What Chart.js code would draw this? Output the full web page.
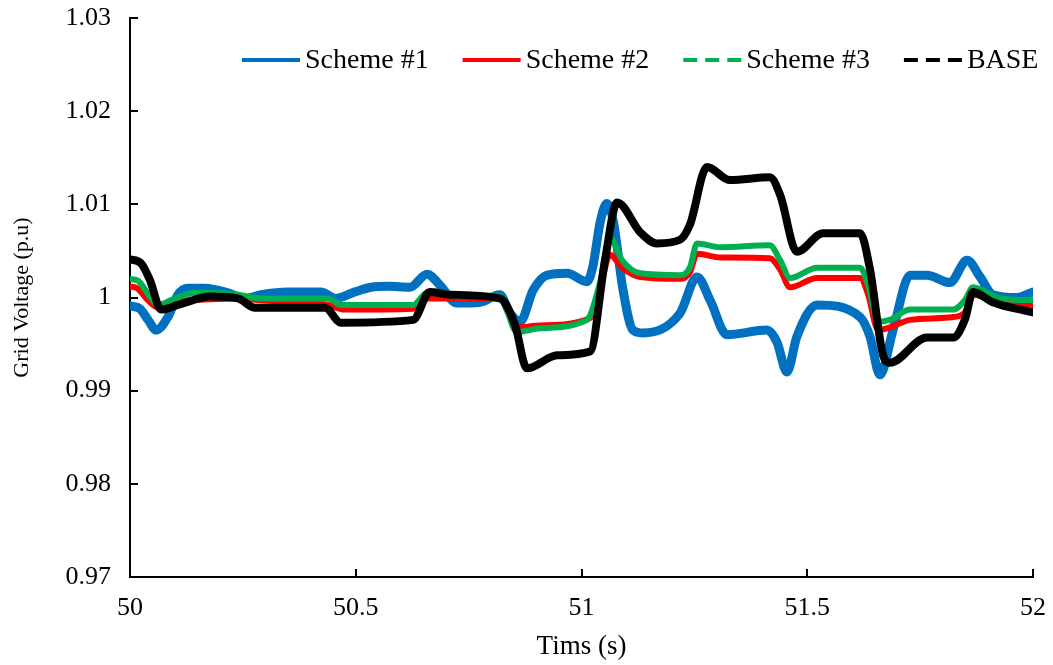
<!DOCTYPE html>
<html>
<head>
<meta charset="utf-8">
<script src="https://cdn.jsdelivr.net/npm/chart.js@4/dist/chart.umd.min.js"></script>
<style>
  html, body { margin: 0; padding: 0; background: #ffffff; }
  #wrap { width: 1053px; height: 665px; }
</style>
</head>
<body>
<div id="wrap"><canvas id="chart" width="1053" height="665"></canvas></div>
<script>
// Axis ticks
const xTickValues = [50, 50.5, 51, 51.5, 52];
const xTickLabels = ['50', '50.5', '51', '51.5', '52'];
const yTickValues = [0.97, 0.98, 0.99, 1.00, 1.01, 1.02, 1.03];
const yTickLabels = ['0.97', '0.98', '0.99', '1', '1.01', '1.02', '1.03'];

const seriesNames = ['Scheme #1', 'Scheme #2', 'Scheme #3', 'BASE'];

// Scheme #1 grid voltage (p.u) against time (s)
const scheme1Time = [50.000, 50.022, 50.040, 50.058, 50.084, 50.106, 50.129, 50.166, 50.217, 50.255,
  50.290, 50.350, 50.423, 50.456, 50.498, 50.534, 50.571, 50.620, 50.658, 50.687,
  50.724, 50.775, 50.819, 50.842, 50.864, 50.893, 50.924, 50.968, 51.012, 51.025,
  51.041, 51.056, 51.070, 51.092, 51.114, 51.136, 51.218, 51.256, 51.285, 51.322,
  51.411, 51.433, 51.455, 51.477, 51.522, 51.617, 51.639, 51.661, 51.690, 51.728,
  51.765, 51.816, 51.854, 51.883, 51.911, 51.965, 52.000];
const scheme1Volt = [0.9991, 0.9988, 0.9976, 0.9965, 0.9979, 1.0003, 1.0010, 1.0010, 1.0005, 0.9999,
  1.0003, 1.0006, 1.0006, 0.9999, 1.0006, 1.0011, 1.0012, 1.0011, 1.0025, 1.0013,
  0.9994, 0.9995, 1.0003, 0.9983, 0.9974, 1.0008, 1.0024, 1.0026, 1.0017, 1.0033,
  1.0080, 1.0101, 1.0083, 1.0008, 0.9965, 0.9962, 0.9983, 1.0022, 0.9997, 0.9960,
  0.9965, 0.9952, 0.9920, 0.9958, 0.9992, 0.9979, 0.9958, 0.9917, 0.9965, 1.0024,
  1.0024, 1.0016, 1.0040, 1.0022, 1.0003, 1.0000, 1.0006];

// Scheme #2
const scheme2Time = [50.000, 50.016, 50.040, 50.062, 50.089, 50.133, 50.244, 50.290, 50.377, 50.439,
  50.476, 50.627, 50.653, 50.687, 50.819, 50.857, 50.908, 51.019, 51.041, 51.063,
  51.090, 51.130, 51.218, 51.240, 51.256, 51.307, 51.417, 51.440, 51.462, 51.522,
  51.617, 51.635, 51.657, 51.683, 51.728, 51.823, 51.849, 51.867, 51.927, 52.000];
const scheme2Volt = [1.0012, 1.0010, 0.9997, 0.9989, 0.9995, 0.9997, 0.9999, 0.9997, 0.9995, 0.9992,
  0.9987, 0.9988, 0.9999, 0.9999, 0.9999, 0.9968, 0.9970, 0.9978, 1.0008, 1.0046,
  1.0032, 1.0022, 1.0020, 1.0027, 1.0047, 1.0043, 1.0042, 1.0030, 1.0011, 1.0021,
  1.0021, 1.0003, 0.9965, 0.9968, 0.9976, 0.9979, 0.9984, 1.0003, 0.9995, 0.9992];

// Scheme #3
const scheme3Time = [50.000, 50.018, 50.044, 50.062, 50.100, 50.144, 50.239, 50.290, 50.439, 50.467,
  50.627, 50.653, 50.669, 50.720, 50.819, 50.857, 50.908, 51.012, 51.041, 51.063,
  51.090, 51.130, 51.218, 51.240, 51.256, 51.307, 51.417, 51.440, 51.462, 51.522,
  51.617, 51.635, 51.657, 51.683, 51.728, 51.823, 51.849, 51.867, 51.927, 52.000];
const scheme3Volt = [1.0020, 1.0018, 1.0001, 0.9992, 0.9999, 1.0005, 1.0003, 0.9999, 0.9999, 0.9992,
  0.9992, 1.0004, 1.0006, 1.0002, 1.0002, 0.9963, 0.9967, 0.9976, 1.0016, 1.0064,
  1.0040, 1.0026, 1.0024, 1.0032, 1.0058, 1.0054, 1.0056, 1.0040, 1.0021, 1.0032,
  1.0032, 1.0013, 0.9974, 0.9976, 0.9987, 0.9987, 0.9997, 1.0011, 0.9999, 0.9997];

// BASE case
const baseTime = [50.000, 50.024, 50.044, 50.069, 50.106, 50.179, 50.239, 50.277, 50.432, 50.467,
  50.627, 50.664, 50.709, 50.819, 50.853, 50.879, 50.946, 51.019, 51.052, 51.079,
  51.130, 51.167, 51.218, 51.240, 51.278, 51.329, 51.417, 51.440, 51.477, 51.535,
  51.617, 51.639, 51.668, 51.683, 51.765, 51.823, 51.849, 51.867, 51.911, 52.000];
const baseVolt = [1.0041, 1.0037, 1.0019, 0.9987, 0.9992, 1.0001, 0.9999, 0.9989, 0.9989, 0.9973,
  0.9976, 1.0006, 1.0003, 0.9999, 0.9970, 0.9924, 0.9938, 0.9942, 1.0040, 1.0102,
  1.0070, 1.0058, 1.0062, 1.0078, 1.0140, 1.0126, 1.0129, 1.0110, 1.0049, 1.0069,
  1.0069, 1.0030, 0.9938, 0.9930, 0.9957, 0.9957, 0.9976, 1.0006, 0.9995, 0.9984];

const toPoints = (xs, ys) => xs.map((x, i) => ({ x: x, y: ys[i] }));

const FONT = '"Liberation Serif", "Times New Roman", serif';

function lineSet(label, xs, ys, color, width, legendDash, order) {
  return {
    label: label,
    data: toPoints(xs, ys),
    borderColor: color,
    backgroundColor: color,
    borderWidth: width,
    pointRadius: 0,
    fill: false,
    cubicInterpolationMode: 'monotone',
    borderJoinStyle: 'round',
    borderCapStyle: 'round',
    legendDash: legendDash,
    order: order
  };
}

// Legend drawn inside the plot area, one row across the top
const insideLegend = {
  id: 'insideLegend',
  afterDraw(chart) {
    const ctx = chart.ctx;
    ctx.save();
    ctx.font = '28px ' + FONT;
    ctx.textBaseline = 'middle';
    ctx.textAlign = 'left';
    let x = 242;
    const y = 60;
    chart.data.datasets.forEach(ds => {
      ctx.beginPath();
      ctx.setLineDash(ds.legendDash);
      ctx.lineWidth = 4;
      ctx.lineCap = 'butt';
      ctx.strokeStyle = ds.borderColor;
      ctx.moveTo(x, y);
      ctx.lineTo(x + 58, y);
      ctx.stroke();
      ctx.setLineDash([]);
      ctx.fillStyle = '#000000';
      ctx.fillText(ds.label, x + 63, y + 1);
      x += 63 + ctx.measureText(ds.label).width + 34;
    });
    ctx.restore();
  }
};

// Short tick marks pointing into the plot
const innerTicks = {
  id: 'innerTicks',
  afterDraw(chart) {
    const ctx = chart.ctx;
    const area = chart.chartArea;
    const xs = chart.scales.x, ys = chart.scales.y;
    ctx.save();
    ctx.strokeStyle = '#000000';
    ctx.lineWidth = 2;
    ctx.beginPath();
    yTickValues.forEach(v => {
      const py = Math.round(ys.getPixelForValue(v));
      ctx.moveTo(area.left, py);
      ctx.lineTo(area.left + 8, py);
    });
    xTickValues.forEach(v => {
      const px = Math.round(xs.getPixelForValue(v));
      ctx.moveTo(px, area.bottom);
      ctx.lineTo(px, area.bottom - 8);
    });
    ctx.stroke();
    ctx.restore();
  }
};

new Chart(document.getElementById('chart'), {
  type: 'line',
  data: {
    datasets: [
      lineSet(seriesNames[0], scheme1Time, scheme1Volt, '#0070C0', 9, [], 4),
      lineSet(seriesNames[1], scheme2Time, scheme2Volt, '#FF0000', 6, [], 3),
      lineSet(seriesNames[2], scheme3Time, scheme3Volt, '#00B050', 6, [14, 8], 2),
      lineSet(seriesNames[3], baseTime, baseVolt, '#000000', 8, [14, 8], 1)
    ]
  },
  options: {
    responsive: false,
    devicePixelRatio: 1,
    animation: false,
    layout: { padding: { top: 18, right: 20, left: 0, bottom: 0 } },
    plugins: {
      legend: { display: false },
      tooltip: { enabled: false }
    },
    scales: {
      x: {
        type: 'linear',
        min: 50,
        max: 52,
        grid: { display: false, drawTicks: false },
        border: { display: true, color: '#000000', width: 2 },
        afterBuildTicks: s => { s.ticks = xTickValues.map(v => ({ value: v })); },
        afterFit: s => { s.height = 88; s.paddingLeft = 0; s.paddingRight = 0; },
        ticks: {
          autoSkip: false,
          maxRotation: 0,
          padding: 16,
          color: '#000000',
          font: { family: FONT, size: 26 },
          callback: (v, i) => xTickLabels[i]
        },
        title: {
          display: true,
          text: 'Tims (s)',
          color: '#000000',
          font: { family: FONT, size: 27 },
          padding: { top: 0, bottom: 2 }
        }
      },
      y: {
        type: 'linear',
        min: 0.97,
        max: 1.03,
        grid: { display: false, drawTicks: false },
        border: { display: true, color: '#000000', width: 2 },
        afterBuildTicks: s => { s.ticks = yTickValues.map(v => ({ value: v })); },
        afterFit: s => { s.width = 130; s.paddingTop = 0; s.paddingBottom = 0; },
        ticks: {
          padding: 19,
          color: '#000000',
          font: { family: FONT, size: 26 },
          callback: (v, i) => yTickLabels[i]
        },
        title: {
          display: true,
          text: 'Grid Voltage (p.u)',
          color: '#000000',
          font: { family: FONT, size: 22 },
          padding: { top: 9, bottom: 0 }
        }
      }
    }
  },
  plugins: [insideLegend, innerTicks]
});
</script>
</body>
</html>
